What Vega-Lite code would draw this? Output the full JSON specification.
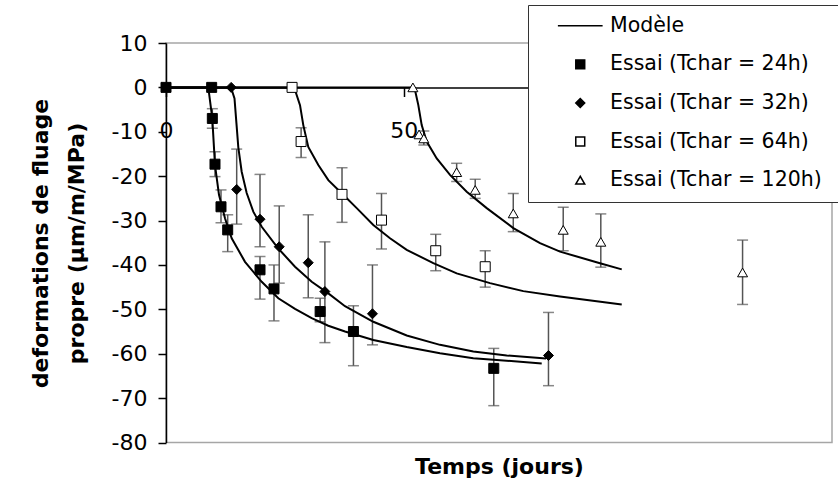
{
  "$schema": "https://vega.github.io/schema/vega-lite/v6.json",
  "width": 666,
  "height": 399.5,
  "autosize": {"type": "none"},
  "padding": {"left": 166, "top": 43, "right": 6, "bottom": 47.5},
  "background": "white",
  "config": {
    "font": "DejaVu Sans",
    "view": {"stroke": "#a6a6a6", "strokeWidth": 1.5},
    "axis": {"grid": false}
  },
  "datasets": {
    "essais": [
      {"serie": "Essai (Tchar = 64h)", "t": 26.5, "v": 0},
      {"serie": "Essai (Tchar = 64h)", "t": 28.4, "v": -12.2, "lo": -15.8, "hi": -9.1},
      {"serie": "Essai (Tchar = 64h)", "t": 37, "v": -24.1, "lo": -30.4, "hi": -18.1},
      {"serie": "Essai (Tchar = 64h)", "t": 45.3, "v": -29.9, "lo": -36.4, "hi": -23.9},
      {"serie": "Essai (Tchar = 64h)", "t": 56.7, "v": -36.8, "lo": -41.3, "hi": -33.1},
      {"serie": "Essai (Tchar = 64h)", "t": 67.1, "v": -40.4, "lo": -45, "hi": -36.8},
      {"serie": "Essai (Tchar = 120h)", "t": 51.9, "v": 0},
      {"serie": "Essai (Tchar = 120h)", "t": 53.2, "v": -10.6},
      {"serie": "Essai (Tchar = 120h)", "t": 54.2, "v": -11.5, "lo": -13, "hi": -9.8},
      {"serie": "Essai (Tchar = 120h)", "t": 61.1, "v": -19.1, "lo": -21.2, "hi": -17.1},
      {"serie": "Essai (Tchar = 120h)", "t": 65, "v": -23.1, "lo": -25, "hi": -20.7},
      {"serie": "Essai (Tchar = 120h)", "t": 73, "v": -28.4, "lo": -32.5, "hi": -23.9},
      {"serie": "Essai (Tchar = 120h)", "t": 83.5, "v": -32.1, "lo": -36.8, "hi": -27},
      {"serie": "Essai (Tchar = 120h)", "t": 91.4, "v": -34.8, "lo": -40.5, "hi": -28.5},
      {"serie": "Essai (Tchar = 120h)", "t": 121.2, "v": -41.7, "lo": -48.9, "hi": -34.4},
      {"serie": "Essai (Tchar = 32h)", "t": 13.7, "v": 0},
      {"serie": "Essai (Tchar = 32h)", "t": 14.86, "v": -23, "lo": -30.8, "hi": -13.9},
      {"serie": "Essai (Tchar = 32h)", "t": 19.76, "v": -29.7, "lo": -35.9, "hi": -19.6},
      {"serie": "Essai (Tchar = 32h)", "t": 23.8, "v": -35.9, "lo": -44.1, "hi": -26.7},
      {"serie": "Essai (Tchar = 32h)", "t": 29.9, "v": -39.5, "lo": -47.4, "hi": -28.7},
      {"serie": "Essai (Tchar = 32h)", "t": 33.4, "v": -46, "lo": -57.5, "hi": -34.8},
      {"serie": "Essai (Tchar = 32h)", "t": 43.4, "v": -51, "lo": -58, "hi": -40},
      {"serie": "Essai (Tchar = 32h)", "t": 80.4, "v": -60.4, "lo": -67.2, "hi": -50.7},
      {"serie": "Essai (Tchar = 24h)", "t": 0, "v": 0},
      {"serie": "Essai (Tchar = 24h)", "t": 9.6, "v": 0},
      {"serie": "Essai (Tchar = 24h)", "t": 9.74, "v": -7, "lo": -9.2, "hi": -4.8},
      {"serie": "Essai (Tchar = 24h)", "t": 10.3, "v": -17.3, "lo": -20.1, "hi": -14.5},
      {"serie": "Essai (Tchar = 24h)", "t": 11.56, "v": -26.9, "lo": -30.5, "hi": -23.1},
      {"serie": "Essai (Tchar = 24h)", "t": 12.97, "v": -32.1, "lo": -37, "hi": -28.7},
      {"serie": "Essai (Tchar = 24h)", "t": 19.76, "v": -41.1, "lo": -47.7, "hi": -38.1},
      {"serie": "Essai (Tchar = 24h)", "t": 22.7, "v": -45.4, "lo": -52.6, "hi": -40},
      {"serie": "Essai (Tchar = 24h)", "t": 32.4, "v": -50.5, "lo": -52.8, "hi": -47.5},
      {"serie": "Essai (Tchar = 24h)", "t": 39.4, "v": -55, "lo": -62.7, "hi": -49.2},
      {"serie": "Essai (Tchar = 24h)", "t": 68.9, "v": -63.3, "lo": -71.7, "hi": -58.8}
    ],
    "modele": [
      {"courbe": "m24", "t": 0, "v": 0},
      {"courbe": "m24", "t": 8.89, "v": 0},
      {"courbe": "m24", "t": 9.73, "v": -7},
      {"courbe": "m24", "t": 10.3, "v": -17.5},
      {"courbe": "m24", "t": 11.14, "v": -24.2},
      {"courbe": "m24", "t": 12.4, "v": -29.5},
      {"courbe": "m24", "t": 13.81, "v": -34},
      {"courbe": "m24", "t": 16.61, "v": -39.3},
      {"courbe": "m24", "t": 20.12, "v": -43.8},
      {"courbe": "m24", "t": 23.61, "v": -47.5},
      {"courbe": "m24", "t": 27.12, "v": -49.9},
      {"courbe": "m24", "t": 30.63, "v": -52},
      {"courbe": "m24", "t": 34.12, "v": -53.7},
      {"courbe": "m24", "t": 37.63, "v": -55},
      {"courbe": "m24", "t": 43.58, "v": -56.9},
      {"courbe": "m24", "t": 50.6, "v": -58.5},
      {"courbe": "m24", "t": 57.6, "v": -59.9},
      {"courbe": "m24", "t": 64.6, "v": -61},
      {"courbe": "m24", "t": 78.98, "v": -62.2},
      {"courbe": "m32", "t": 0, "v": 0},
      {"courbe": "m32", "t": 13.66, "v": 0},
      {"courbe": "m32", "t": 14.4, "v": -2.5},
      {"courbe": "m32", "t": 14.8, "v": -8},
      {"courbe": "m32", "t": 15.2, "v": -13.5},
      {"courbe": "m32", "t": 15.91, "v": -19},
      {"courbe": "m32", "t": 16.96, "v": -23.8},
      {"courbe": "m32", "t": 18.35, "v": -28},
      {"courbe": "m32", "t": 20.12, "v": -31.4},
      {"courbe": "m32", "t": 23.61, "v": -36.3},
      {"courbe": "m32", "t": 27.12, "v": -40.4},
      {"courbe": "m32", "t": 30.63, "v": -43.8},
      {"courbe": "m32", "t": 34.12, "v": -46.4},
      {"courbe": "m32", "t": 37.63, "v": -49.3},
      {"courbe": "m32", "t": 43.58, "v": -52.8},
      {"courbe": "m32", "t": 50.6, "v": -55.9},
      {"courbe": "m32", "t": 57.6, "v": -58},
      {"courbe": "m32", "t": 64.6, "v": -59.5},
      {"courbe": "m32", "t": 71.62, "v": -60.4},
      {"courbe": "m32", "t": 79.88, "v": -61.1},
      {"courbe": "m64", "t": 0, "v": 0},
      {"courbe": "m64", "t": 26.49, "v": 0},
      {"courbe": "m64", "t": 27.12, "v": -0.6},
      {"courbe": "m64", "t": 28.17, "v": -4},
      {"courbe": "m64", "t": 28.86, "v": -8.5},
      {"courbe": "m64", "t": 29.91, "v": -13.4},
      {"courbe": "m64", "t": 32.02, "v": -17.5},
      {"courbe": "m64", "t": 34.12, "v": -20.9},
      {"courbe": "m64", "t": 37.63, "v": -24.6},
      {"courbe": "m64", "t": 40.09, "v": -27.2},
      {"courbe": "m64", "t": 43.58, "v": -31},
      {"courbe": "m64", "t": 47.09, "v": -34},
      {"courbe": "m64", "t": 50.6, "v": -36.6},
      {"courbe": "m64", "t": 56.19, "v": -39.6},
      {"courbe": "m64", "t": 61.11, "v": -41.9},
      {"courbe": "m64", "t": 68.11, "v": -44.1},
      {"courbe": "m64", "t": 75.11, "v": -45.9},
      {"courbe": "m64", "t": 82.83, "v": -47.1},
      {"courbe": "m64", "t": 95.8, "v": -48.9},
      {"courbe": "m120", "t": 0, "v": 0},
      {"courbe": "m120", "t": 51.71, "v": 0},
      {"courbe": "m120", "t": 52.34, "v": -0.6},
      {"courbe": "m120", "t": 53.04, "v": -4},
      {"courbe": "m120", "t": 53.75, "v": -8.5},
      {"courbe": "m120", "t": 54.8, "v": -12.2},
      {"courbe": "m120", "t": 56.91, "v": -16},
      {"courbe": "m120", "t": 59.7, "v": -19.7},
      {"courbe": "m120", "t": 63.21, "v": -23.5},
      {"courbe": "m120", "t": 67.42, "v": -27.2},
      {"courbe": "m120", "t": 73.01, "v": -31.7},
      {"courbe": "m120", "t": 78.62, "v": -35.1},
      {"courbe": "m120", "t": 82.83, "v": -37},
      {"courbe": "m120", "t": 91.23, "v": -39.6},
      {"courbe": "m120", "t": 95.8, "v": -41}
    ]
  },
  "layer": [
    {
      "data": {"name": "essais"},
      "transform": [{"filter": "isValid(datum.lo)"}],
      "mark": {
        "type": "errorbar",
        "ticks": {"size": 11, "color": "#555555", "thickness": 1.5},
        "rule": {"color": "#555555", "strokeWidth": 1.5}
      },
      "encoding": {
        "x": {
          "field": "t", "type": "quantitative",
          "scale": {"domain": [0, 140], "nice": false, "zero": false},
          "axis": {
            "title": "Temps (jours)", "values": [0, 50], "offset": -355,
            "domainColor": "black", "domainWidth": 1.5, "tickColor": "black", "tickWidth": 1.5, "tickSize": 9,
            "labelFontSize": 22, "labelColor": "black", "labelBaseline": "middle", "labelPadding": 34,
            "labelFlush": false, "labelOverlap": false,
            "titleFontSize": 22, "titleFontWeight": "bold", "titleColor": "black",
            "titleBaseline": "alphabetic", "titleY": 386
          }
        },
        "y": {
          "field": "lo", "type": "quantitative",
          "scale": {"domain": [-80, 10], "nice": false, "zero": false},
          "axis": {
            "title": ["deformations de fluage", "propre (µm/m/MPa)"],
            "values": [-80, -70, -60, -50, -40, -30, -20, -10, 0, 10],
            "labelExpr": "'' + datum.value",
            "domainColor": "black", "domainWidth": 1.5, "tickColor": "black", "tickWidth": 1.5, "tickSize": 8,
            "labelFontSize": 22, "labelColor": "black", "labelPadding": 11,
            "titleFontSize": 22, "titleFontWeight": "bold", "titleColor": "black",
            "titleAngle": 270, "titleAlign": "center", "titleBaseline": "alphabetic",
            "titleLineHeight": 36, "titleX": -119, "titleY": 200
          }
        },
        "y2": {"field": "hi"}
      }
    },
    {
      "data": {"name": "modele"},
      "mark": {"type": "line", "color": "black", "strokeWidth": 2},
      "encoding": {
        "x": {"field": "t", "type": "quantitative", "axis": {"title": "Temps (jours)"}},
        "y": {"field": "v", "type": "quantitative", "axis": {"title": ["deformations de fluage", "propre (µm/m/MPa)"]}},
        "detail": {"field": "courbe"},
        "order": {"field": "t", "type": "quantitative"}
      }
    },
    {
      "data": {"name": "essais"},
      "mark": {"type": "point", "filled": true, "stroke": "black", "strokeWidth": 1, "size": 100, "opacity": 1},
      "encoding": {
        "x": {"field": "t", "type": "quantitative", "axis": {"title": "Temps (jours)"}},
        "y": {"field": "v", "type": "quantitative", "axis": {"title": ["deformations de fluage", "propre (µm/m/MPa)"]}},
        "shape": {
          "field": "serie", "type": "nominal",
          "scale": {
            "domain": ["Modèle", "Essai (Tchar = 24h)", "Essai (Tchar = 32h)", "Essai (Tchar = 64h)", "Essai (Tchar = 120h)"],
            "range": ["M-5,0H5", "square", "diamond", "square", "triangle-up"]
          },
          "legend": {
            "title": "\u00a0", "titleOrient": "right", "titlePadding": 12, "titleFontSize": 12,
            "orient": "none", "legendX": 362, "legendY": -38,
            "fillColor": "white", "strokeColor": "#333333", "padding": 10.5,
            "labelFontSize": 20.5, "labelColor": "black", "labelLimit": 400,
            "symbolOffset": 31.5, "labelOffset": 19.5, "rowPadding": 17.6,
            "symbolSize": 80,
            "encode": {"symbols": {"update": {"stroke": {"value": "black"}, "strokeWidth": {"value": 1.5}, "opacity": {"value": 1}}}}
          }
        },
        "fill": {
          "field": "serie", "type": "nominal",
          "scale": {
            "domain": ["Modèle", "Essai (Tchar = 24h)", "Essai (Tchar = 32h)", "Essai (Tchar = 64h)", "Essai (Tchar = 120h)"],
            "range": ["black", "black", "black", "white", "white"]
          },
          "legend": {
            "title": "\u00a0", "titleOrient": "right", "titlePadding": 12, "titleFontSize": 12,
            "orient": "none", "legendX": 362, "legendY": -38,
            "fillColor": "white", "strokeColor": "#333333", "padding": 10.5,
            "labelFontSize": 20.5, "labelColor": "black", "labelLimit": 400,
            "symbolOffset": 31.5, "labelOffset": 19.5, "rowPadding": 17.6,
            "symbolSize": 80,
            "encode": {"symbols": {"update": {"stroke": {"value": "black"}, "strokeWidth": {"value": 1.5}, "opacity": {"value": 1}}}}
          }
        }
      }
    }
  ]
}
